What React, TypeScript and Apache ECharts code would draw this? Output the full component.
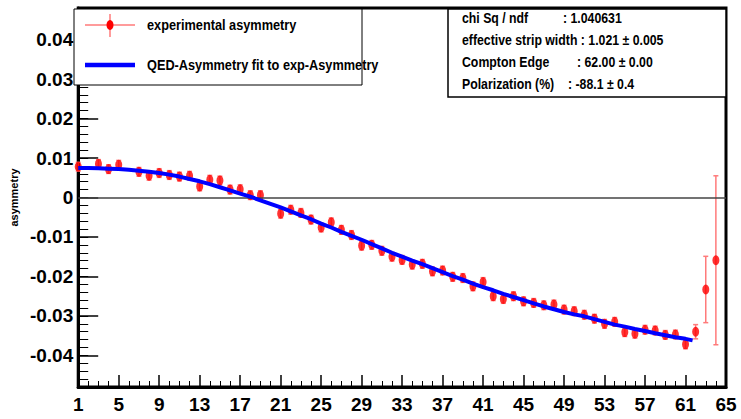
import React, { useEffect, useRef } from "react";
import * as echarts from "echarts";

// channel (strip) numbers with measured asymmetry
const channels = [1, 3, 4, 5, 7, 8, 9, 10, 11, 12, 13, 14, 15, 16, 17, 18, 19,
  21, 22, 23, 24, 25, 26, 27, 28, 29, 30, 31, 32, 33, 34, 35, 36, 37, 38, 39, 40,
  41, 42, 43, 44, 45, 46, 47, 48, 49, 50, 51, 52, 53, 54, 55, 56, 57, 58, 59, 60,
  61, 62, 63, 64];
const asymmetry = [0.0078, 0.0085, 0.0072, 0.0083, 0.0065, 0.0055, 0.0062, 0.0057, 0.0053, 0.0055, 0.0028, 0.0045, 0.0043, 0.0020, 0.0021, 0.0006, 0.0006,
  -0.0041, -0.0031, -0.0039, -0.0056, -0.0076, -0.0063, -0.0082, -0.0095, -0.0122, -0.0120, -0.0135, -0.0150, -0.0158, -0.0170, -0.0168, -0.0187, -0.0185, -0.0201, -0.0204, -0.0225,
  -0.0214, -0.0250, -0.0257, -0.0250, -0.0263, -0.0267, -0.0273, -0.0271, -0.0284, -0.0288, -0.0297, -0.0307, -0.0320, -0.0315, -0.0341, -0.0345, -0.0335, -0.0337, -0.0348, -0.0347,
  -0.0372, -0.0340, -0.0233, -0.0159];
const asymmetryErr = [0.0011, 0.0011, 0.0011, 0.0011, 0.0011, 0.0011, 0.0011, 0.0011, 0.0011, 0.0011, 0.0011, 0.0011, 0.0011, 0.0011, 0.0011, 0.0011, 0.0011,
  0.0011, 0.0011, 0.0011, 0.0011, 0.0011, 0.0011, 0.0011, 0.0011, 0.0011, 0.0011, 0.0011, 0.0011, 0.0011, 0.0011, 0.0011, 0.0011, 0.0011, 0.0011, 0.0011, 0.0011,
  0.0011, 0.0011, 0.0011, 0.0011, 0.0011, 0.0011, 0.0011, 0.0011, 0.0011, 0.0011, 0.0011, 0.0011, 0.0011, 0.0011, 0.0011, 0.0011, 0.0011, 0.0011, 0.0011, 0.0011,
  0.0011, 0.0018, 0.0084, 0.0214];

// QED asymmetry fit curve
const fitX = [1, 2, 3, 4, 5, 6, 7, 8, 9, 10, 11, 12, 13, 14, 15, 16, 17, 18, 19, 20,
  21, 22, 23, 24, 25, 26, 27, 28, 29, 30, 31, 32, 33, 34, 35, 36, 37, 38, 39, 40,
  41, 42, 43, 44, 45, 46, 47, 48, 49, 50, 51, 52, 53, 54, 55, 56, 57, 58, 59, 60, 61, 61.7];
const fitY = [0.0075, 0.0075, 0.0074, 0.0073, 0.0072, 0.0070, 0.0068, 0.0065, 0.0062, 0.0058,
  0.0053, 0.0047, 0.0041, 0.0034, 0.0026, 0.0018, 0.0010, 0.0002, -0.0007, -0.0016,
  -0.0025, -0.0035, -0.0045, -0.0055, -0.0066, -0.0076, -0.0087, -0.0097, -0.0107, -0.0118,
  -0.0129, -0.0140, -0.0150, -0.0160, -0.0169, -0.0179, -0.0189, -0.0199, -0.0208, -0.0218,
  -0.0227, -0.0235, -0.0244, -0.0252, -0.0260, -0.0268, -0.0276, -0.0283, -0.0290, -0.0296,
  -0.0301, -0.0308, -0.0315, -0.0322, -0.0327, -0.0333, -0.0338, -0.0344, -0.0349, -0.0354, -0.0358, -0.0362];

const yTicks = [-0.04, -0.03, -0.02, -0.01, 0, 0.01, 0.02, 0.03, 0.04];
const xTickStep = 4;

const legendLabels = ["experimental asymmetry", "QED-Asymmetry fit to exp-Asymmetry"];
const statsNames = ["chi Sq / ndf", "Compton Edge", "Polarization (%)"];
const statsValues = [": 1.040631", ": 62.00 \u00b1 0.00", ": -88.1 \u00b1 0.4"];
const stripWidthLine = "effective strip width : 1.021 \u00b1 0.005";
const yName = "asymmetry";

const FONT = "'Liberation Sans', Arial, sans-serif";

export default function App() {
  const ref = useRef<HTMLDivElement>(null);
  useEffect(() => {
    if (!ref.current) return;
    const chart = echarts.init(ref.current, null, { renderer: "svg" });
    const points = channels.map((c, i) => [c, asymmetry[i], asymmetryErr[i]]);
    const fit = fitX.map((x, i) => [x, fitY[i]]);
    const fmt = (v: number) => {
      const r = Math.round(v * 100) / 100;
      return r === 0 ? "0" : String(r);
    };
    const txt = (x: number, y: number, text: string, size: number, sx: number) => ({
      type: "text", x, y, z: 20, scaleX: sx,
      style: { text, fill: "#000", font: `bold ${size}px ${FONT}`, textVerticalAlign: "middle" },
    });
    chart.setOption({
      animation: false,
      backgroundColor: "#fff",
      grid: { left: 74, right: 15, top: 8, bottom: 32, show: true, borderColor: "#000", borderWidth: 3, backgroundColor: "#fff" },
      xAxis: {
        type: "value", min: 1, max: 65, interval: xTickStep,
        axisLine: { show: true, onZero: false, lineStyle: { color: "#000", width: 3 } },
        axisTick: { show: true, inside: true, length: 12, lineStyle: { color: "#000", width: 1.5 } },
        minorTick: { show: true, splitNumber: 4, length: 6, lineStyle: { color: "#000", width: 1 } },
        splitLine: { show: false },
        axisLabel: { color: "#000", fontFamily: FONT, fontWeight: "bold", fontSize: 19, margin: 8,
          formatter: (v: number) => String(Math.round(v)) },
      },
      yAxis: [
        {
          type: "value", min: -0.048, max: 0.048,
          name: yName, nameLocation: "middle", nameGap: 56, nameRotate: 90,
          nameTextStyle: { color: "#000", fontFamily: FONT, fontWeight: "bold", fontSize: 11 },
          axisLine: { show: true, onZero: false, lineStyle: { color: "#000", width: 3 } },
          axisTick: { show: true, inside: true, length: 20, customValues: yTicks, lineStyle: { color: "#000", width: 1.5 } },
          axisLabel: { color: "#000", fontFamily: FONT, fontWeight: "bold", fontSize: 19, margin: 5,
            customValues: yTicks, formatter: fmt },
          splitLine: { show: false },
        },
        {
          type: "value", min: -0.048, max: 0.048, interval: 0.002, position: "left",
          axisLine: { show: false },
          axisTick: { show: true, inside: true, length: 10, lineStyle: { color: "#000", width: 1 } },
          axisLabel: { show: false },
          splitLine: { show: false },
        },
      ],
      series: [
        {
          type: "custom", name: "errors", xAxisIndex: 0, yAxisIndex: 0, z: 3,
          data: points,
          encode: { x: 0, y: 1 },
          renderItem: (params: any, api: any) => {
            const x = api.value(0), y = api.value(1), e = api.value(2);
            const top = api.coord([x, y + e]);
            const bot = api.coord([x, y - e]);
            const hw = 2.5;
            const st = { stroke: "#ff7a7a", lineWidth: 1.5 };
            return {
              type: "group",
              children: [
                { type: "line", shape: { x1: top[0], y1: top[1], x2: bot[0], y2: bot[1] }, style: st },
                { type: "line", shape: { x1: top[0] - hw, y1: top[1], x2: top[0] + hw, y2: top[1] }, style: st },
                { type: "line", shape: { x1: bot[0] - hw, y1: bot[1], x2: bot[0] + hw, y2: bot[1] }, style: st },
              ],
            };
          },
          markLine: {
            silent: true, symbol: "none", label: { show: false },
            lineStyle: { color: "#444", width: 1.5, type: "solid" },
            data: [{ yAxis: 0 }],
          },
        },
        {
          type: "scatter", name: "experimental asymmetry", z: 4,
          data: points.map((p) => [p[0], p[1]]),
          symbol: "circle", symbolSize: [7, 10],
          itemStyle: { color: "#ff0000" },
        },
        {
          type: "line", name: "fit", z: 5,
          data: fit, showSymbol: false, symbol: "none",
          lineStyle: { color: "#0000ff", width: 4 },
        },
      ],
      graphic: [
        { type: "rect", z: 15, shape: { x: 74, y: 9, width: 288, height: 76 }, style: { fill: "#fff", stroke: "#000", lineWidth: 1 } },
        { type: "line", z: 16, shape: { x1: 85, y1: 25, x2: 135, y2: 25 }, style: { stroke: "#ff7a7a", lineWidth: 1.5 } },
        { type: "line", z: 16, shape: { x1: 110, y1: 14, x2: 110, y2: 37 }, style: { stroke: "#ff7a7a", lineWidth: 1.5 } },
        { type: "ellipse", z: 17, shape: { cx: 110, cy: 25, rx: 3.5, ry: 5 }, style: { fill: "#ff0000" } },
        { type: "line", z: 16, shape: { x1: 85, y1: 65, x2: 135, y2: 65 }, style: { stroke: "#0000ff", lineWidth: 4.5 } },
        txt(147, 25, legendLabels[0], 15, 0.85),
        txt(147, 65, legendLabels[1], 15, 0.85),
        { type: "rect", z: 15, shape: { x: 448, y: 9, width: 278, height: 88 }, style: { fill: "#fff", stroke: "#000", lineWidth: 1.5 } },
        txt(462, 18, statsNames[0], 15, 0.82),
        txt(563, 18, statsValues[0], 15, 0.82),
        txt(462, 40, stripWidthLine, 15, 0.82),
        txt(462, 62, statsNames[1], 15, 0.82),
        txt(577, 62, statsValues[1], 15, 0.82),
        txt(462, 84, statsNames[2], 15, 0.82),
        txt(568, 84, statsValues[2], 15, 0.82),
      ],
    });
    return () => chart.dispose();
  }, []);
  return <div ref={ref} style={{ position: "absolute", left: 0, top: 0, width: 741, height: 419 }} />;
}
